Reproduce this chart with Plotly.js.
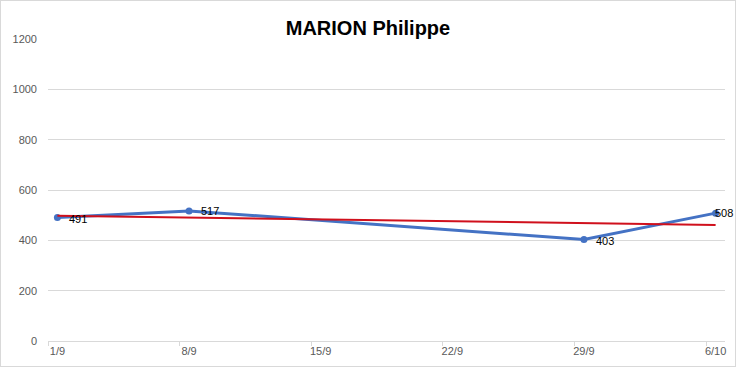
<!DOCTYPE html>
<html>
<head>
<meta charset="utf-8">
<script src="https://cdn.plot.ly/plotly-3.0.1.min.js"></script>
<style>
html,body{margin:0;padding:0;background:#fff;}
#wrap{position:relative;width:736px;height:367px;}
#chart{width:736px;height:367px;}
#frame{position:absolute;left:0;top:0;width:736px;height:367px;box-sizing:border-box;border:1px solid #d9d9d9;pointer-events:none;}
</style>
</head>
<body>
<div id="wrap"><div id="chart"></div><div id="frame"></div></div>
<script>
// Days since 1 Sept
var dayIndex = [0, 7, 28, 35];
var values = [491, 517, 403, 508];
var pointLabels = ['491', '517', '403', '508'];
var tickDays = [0, 7, 14, 21, 28, 35];
var tickLabels = ['1/9', '8/9', '15/9', '22/9', '29/9', '6/10'];
var trendDays = [0, 35];
var trendValues = [498, 461];
var yTicks = [0, 200, 400, 600, 800, 1000, 1200];

var labelShiftX = [10, 10, 10, -3];
var labelShiftY = [-2, 0, -1, 0];

var series = {
  x: dayIndex, y: values, type: 'scatter', mode: 'lines+markers',
  line: {color: '#4472C4', width: 3},
  marker: {color: '#4472C4', size: 7},
  cliponaxis: false, hoverinfo: 'none'
};
var trend = {
  x: trendDays, y: trendValues, type: 'scatter', mode: 'lines',
  line: {color: '#D0101C', width: 2}, hoverinfo: 'none'
};

var annotations = dayIndex.map(function (d, i) {
  return {
    x: d, y: values[i], xref: 'x', yref: 'y', text: pointLabels[i],
    showarrow: false, xanchor: 'left', yanchor: 'middle',
    xshift: labelShiftX[i], yshift: labelShiftY[i],
    font: {family: 'Liberation Sans, Arial, sans-serif', size: 11, color: '#000'}
  };
});

Plotly.newPlot('chart', [series, trend], {
  width: 736, height: 367,
  margin: {l: 48, r: 11, t: 39, b: 26},
  paper_bgcolor: '#fff', plot_bgcolor: '#fff',
  showlegend: false,
  annotations: annotations,
  title: {text: '<b>MARION Philippe</b>', x: 0.5, xanchor: 'center', y: 0.925, yanchor: 'middle',
    font: {family: 'Liberation Sans, Arial, sans-serif', size: 20, color: '#000'}},
  xaxis: {
    range: [-0.5, 35.5], tickmode: 'array', tickvals: tickDays, ticktext: tickLabels,
    ticks: '', showgrid: false, zeroline: false,
    showline: true, linecolor: '#d9d9d9', linewidth: 1,
    tickfont: {family: 'Liberation Sans, Arial, sans-serif', size: 11, color: '#595959'},
    minor: {tick0: -0.5, dtick: 7, ticks: 'outside', ticklen: 4, tickcolor: '#d9d9d9', showgrid: false}
  },
  yaxis: {
    range: [0, 1200], tickmode: 'array', tickvals: yTicks,
    showgrid: true, gridcolor: '#d9d9d9', gridwidth: 1, zeroline: false, showline: false,
    ticks: '', ticklabelstandoff: 10,
    tickfont: {family: 'Liberation Sans, Arial, sans-serif', size: 11, color: '#595959'}
  }
}, {staticPlot: true, displayModeBar: false});
</script>
</body>
</html>
